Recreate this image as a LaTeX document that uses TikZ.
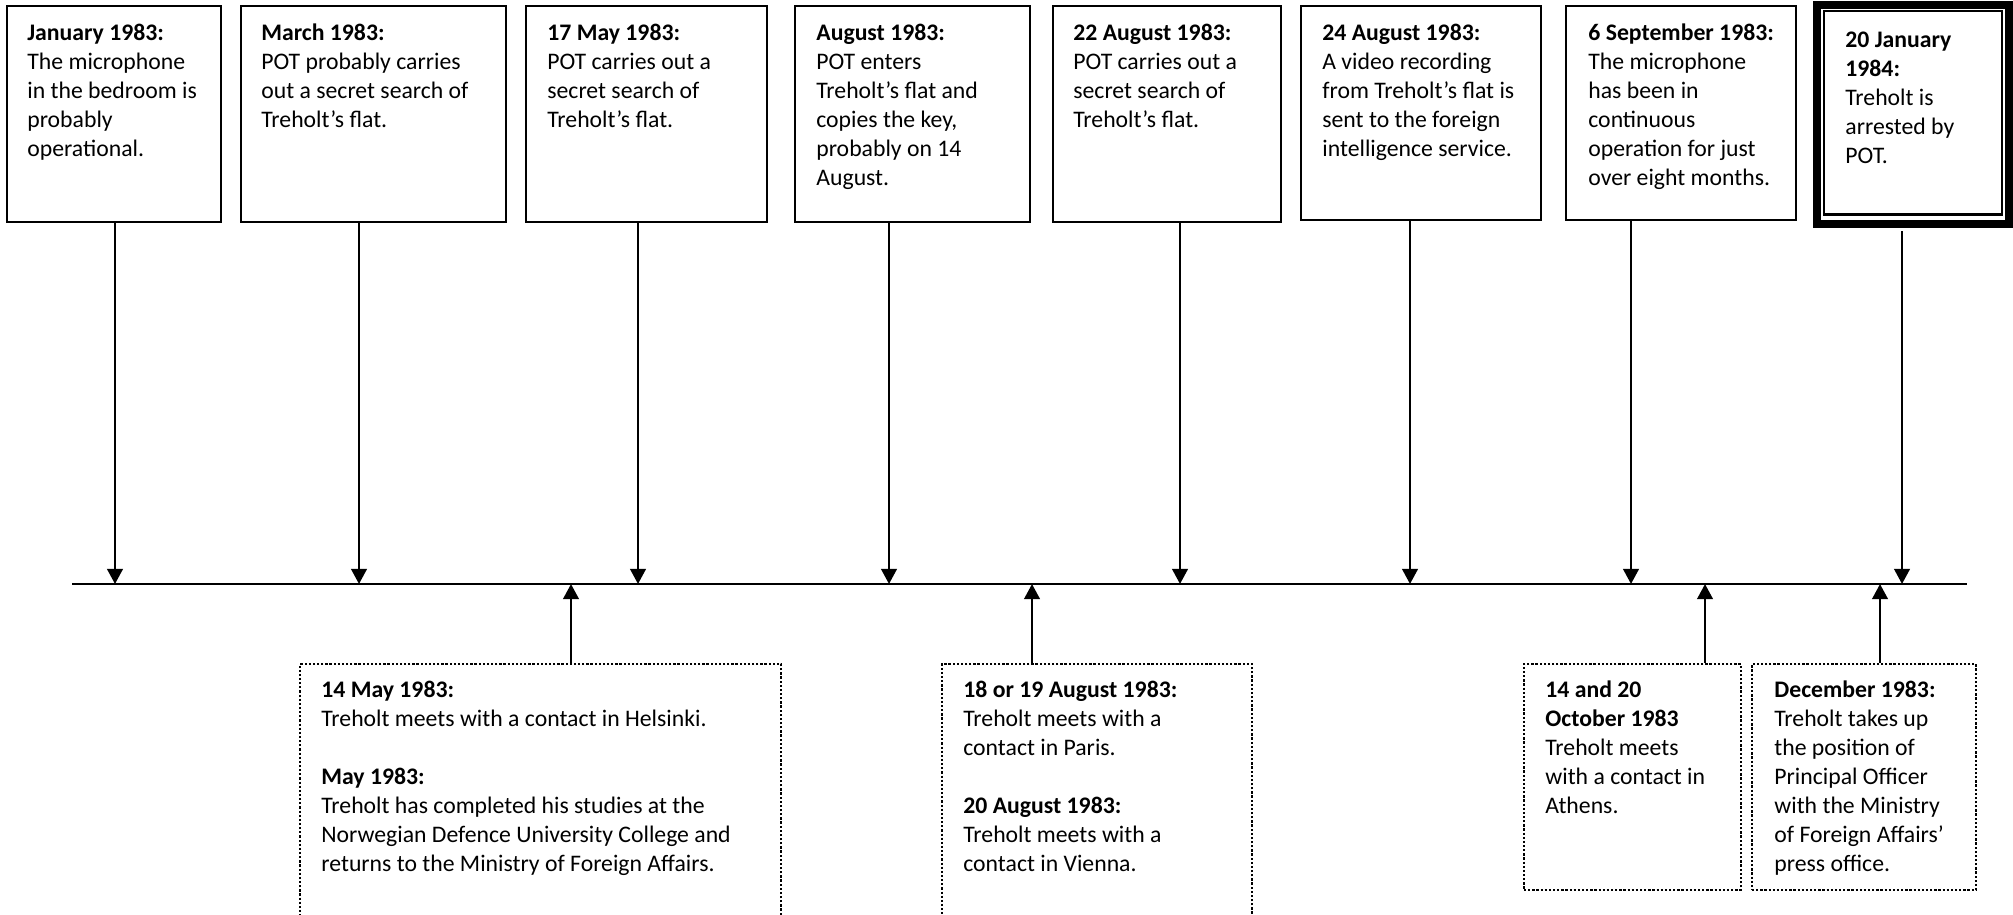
\documentclass[tikz,border=0pt]{standalone}
\usepackage{fontspec}
\setmainfont{Carlito}
\usetikzlibrary{arrows.meta,fit}
\begin{document}
\begin{tikzpicture}[x=0.531pt,y=-0.531pt,
  tbox/.style={draw, line width=1.1pt, inner sep=0pt},
  dbox/.style={draw, line width=1.35pt, dash pattern=on 1.2pt off 1.0pt, inner sep=0pt},
  txt/.style={anchor=base west, align=left, inner sep=0pt, font=\fontsize{12.6pt}{15.4pt}\selectfont},
  arr/.style={line width=1.4pt, -{Triangle[width=8.2pt,length=8pt]}},
  tline/.style={line width=1.4pt}]
\clip (0,0) rectangle (2013,914);
\fill[white] (0,0) rectangle (2013,914);

% timeline
\coordinate (tl) at (72,584);
\coordinate (tr) at (1967,584);
\draw[tline] (tl) -- (tr);

% top boxes
\node[tbox, fit={(7,6) (221,222)}] (b1) {};
\node[tbox, fit={(241,6) (506,222)}] (b2) {};
\node[tbox, fit={(526,6) (767,222)}] (b3) {};
\node[tbox, fit={(795,6) (1030,222)}] (b4) {};
\node[tbox, fit={(1053,6) (1281,222)}] (b5) {};
\node[tbox, fit={(1301,6) (1541,220)}] (b6) {};
\node[tbox, fit={(1566,6) (1796,220)}] (b7) {};
\node[draw, line width=4.25pt, inner sep=0pt, fit={(1817,4.5) (2009,223.5)}] (b8) {};
\node[draw, line width=1.3pt, inner sep=0pt, fit={(1824,11) (2002,214.5)}] (b8in) {};

% texts (anchor = baseline of the last line)
\node[txt] (b1t) at (27,156) {\textbf{January 1983:}\\The microphone\\in the bedroom is\\probably\\operational.};
\node[txt] (b2t) at (261,127) {\textbf{March 1983:}\\POT probably carries\\out a secret search of\\Treholt’s flat.};
\node[txt] (b3t) at (547,127) {\textbf{17 May 1983:}\\POT carries out a\\secret search of\\Treholt’s flat.};
\node[txt] (b4t) at (816,185) {\textbf{August 1983:}\\POT enters\\Treholt’s flat and\\copies the key,\\probably on 14\\August.};
\node[txt] (b5t) at (1073,127) {\textbf{22 August 1983:}\\POT carries out a\\secret search of\\Treholt’s flat.};
\node[txt] (b6t) at (1322,156) {\textbf{24 August 1983:}\\A video recording\\from Treholt’s flat is\\sent to the foreign\\intelligence service.};
\node[txt] (b7t) at (1588,185) {\textbf{6 September 1983:}\\The microphone\\has been in\\continuous\\operation for just\\over eight months.};
\node[txt] (b8t) at (1845,163) {\textbf{20 January}\\\textbf{1984:}\\Treholt is\\arrested by\\POT.};

% bottom boxes
\node[dbox, fit={(300,664) (781,960)}] (d1) {};
\node[dbox, fit={(942,664) (1252,960)}] (d2) {};
\node[dbox, fit={(1524,664) (1741,890)}] (d3) {};
\node[dbox, fit={(1752,664) (1976,890)}] (d4) {};

\node[txt] (d1t) at (321,871) {\textbf{14 May 1983:}\\Treholt meets with a contact in Helsinki.\\[15.4pt]\textbf{May 1983:}\\Treholt has completed his studies at the\\Norwegian Defence University College and\\returns to the Ministry of Foreign Affairs.};
\node[txt] (d2t) at (963,871) {\textbf{18 or 19 August 1983:}\\Treholt meets with a\\contact in Paris.\\[15.4pt]\textbf{20 August 1983:}\\Treholt meets with a\\contact in Vienna.};
\node[txt] (d3t) at (1545,813) {\textbf{14 and 20}\\\textbf{October 1983}\\Treholt meets\\with a contact in\\Athens.};
\node[txt] (d4t) at (1774,871) {\textbf{December 1983:}\\Treholt takes up\\the position of\\Principal Officer\\with the Ministry\\of Foreign Affairs’\\press office.};

% timeline points
\coordinate (t1) at (115,584);
\coordinate (t2) at (359,584);
\coordinate (t3) at (638,584);
\coordinate (t4) at (889,584);
\coordinate (t5) at (1180,584);
\coordinate (t6) at (1410,584);
\coordinate (t7) at (1631,584);
\coordinate (t8) at (1902,584);
\coordinate (u1) at (571,584);
\coordinate (u2) at (1032,584);
\coordinate (u3) at (1705,584);
\coordinate (u4) at (1880,584);

\draw[arr] (b1.south -| t1) -- (t1);
\draw[arr] (b2.south -| t2) -- (t2);
\draw[arr] (b3.south -| t3) -- (t3);
\draw[arr] (b4.south -| t4) -- (t4);
\draw[arr] (b5.south -| t5) -- (t5);
\draw[arr] (b6.south -| t6) -- (t6);
\draw[arr] (b7.south -| t7) -- (t7);
\draw[arr] ([yshift=-2.1pt]b8.south -| t8) -- (t8);
\draw[arr] (d1.north -| u1) -- (u1);
\draw[arr] (d2.north -| u2) -- (u2);
\draw[arr] (d3.north -| u3) -- (u3);
\draw[arr] (d4.north -| u4) -- (u4);
\end{tikzpicture}
\end{document}
